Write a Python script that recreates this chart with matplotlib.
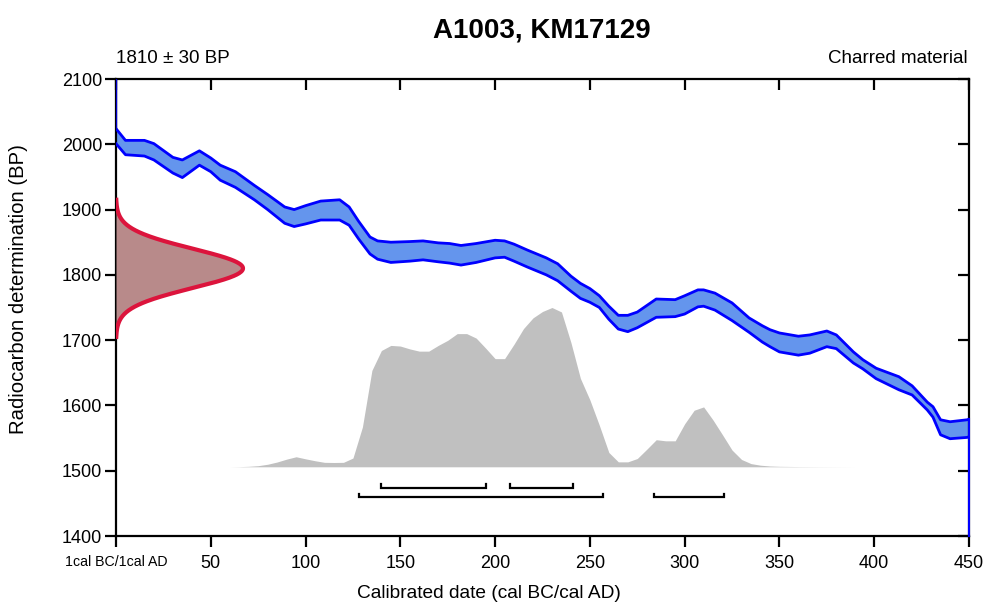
import numpy as np
import matplotlib
matplotlib.use("Agg")
import matplotlib.pyplot as plt

plt.rcParams['font.family'] = ['Liberation Sans', 'DejaVu Sans']

# ---- data ----
title = "A1003, KM17129"
date_label = "1810 \u00b1 30 BP"
material = "Charred material"
c14_mean = 1810
c14_sd = 30

# calibration curve band (cal AD, upper BP, lower BP)
cal_years = [0, 5, 15, 20, 30, 35, 44, 50, 55, 63, 73, 80, 89, 94, 100, 108, 118, 123,
             128, 134, 138, 145, 155, 162, 170, 176, 182, 190, 200, 205, 210, 217, 227,
             233, 240, 245, 250, 255, 260, 265, 270, 275, 285, 295, 300, 307, 310, 316,
             325, 334, 341, 345, 350, 360, 366, 375, 380, 389, 394, 401, 413, 420, 428,
             431, 435, 440, 449, 450]
cal_upper = [2024, 2006, 2006, 2001, 1980, 1976, 1990, 1979, 1968, 1958, 1937, 1923, 1904,
             1900, 1906, 1913, 1915, 1904, 1882, 1858, 1852, 1850, 1851, 1852, 1849, 1848,
             1845, 1848, 1853, 1852, 1847, 1838, 1826, 1817, 1798, 1787, 1779, 1768, 1752,
             1738, 1738, 1743, 1763, 1762, 1768, 1777, 1777, 1772, 1757, 1734, 1722, 1716,
             1711, 1706, 1708, 1714, 1708, 1682, 1670, 1657, 1644, 1630, 1605, 1598, 1578,
             1575, 1578, 1579]
cal_lower = [2001, 1984, 1982, 1976, 1956, 1949, 1968, 1958, 1945, 1934, 1915, 1900, 1879,
             1874, 1878, 1884, 1884, 1876, 1855, 1832, 1824, 1819, 1821, 1823, 1820, 1818,
             1815, 1819, 1826, 1827, 1821, 1812, 1800, 1791, 1775, 1764, 1758, 1750, 1732,
             1717, 1713, 1719, 1735, 1736, 1740, 1751, 1752, 1746, 1730, 1712, 1697, 1690,
             1682, 1677, 1680, 1690, 1687, 1665, 1656, 1641, 1624, 1616, 1593, 1582, 1555,
             1549, 1551, 1552]

# calibrated (posterior) probability, relative
post_years = [60, 65, 70, 75, 80, 85, 90, 95, 100, 105, 110, 115, 120, 125, 130, 135,
              140, 145, 150, 155, 160, 165, 170, 175, 180, 185, 190, 195, 200, 205, 210,
              215, 220, 225, 230, 235, 240, 245, 250, 255, 260, 265, 270, 275, 280, 285,
              290, 295, 300, 305, 310, 315, 320, 325, 330, 335, 340, 345, 350, 360, 370,
              380, 390]
post_prob = [0.0, 0.001, 0.003, 0.007, 0.016, 0.03, 0.048, 0.063, 0.05, 0.038,
             0.028, 0.027, 0.028, 0.055, 0.25, 0.605, 0.73, 0.762, 0.758, 0.74, 0.726, 0.726,
             0.762, 0.794, 0.836, 0.836, 0.808, 0.745, 0.679, 0.679, 0.77, 0.868, 0.935,
             0.975, 1.0, 0.972, 0.78, 0.555, 0.42, 0.26, 0.09, 0.031, 0.031, 0.052, 0.11,
             0.17, 0.163, 0.163, 0.27, 0.355, 0.376, 0.293, 0.2, 0.105, 0.046, 0.02, 0.01,
             0.005, 0.003, 0.0015, 0.0008, 0.0004, 0.0]

# highest probability ranges
range68 = [(140, 195), (208, 241)]
range95 = [(128, 257), (284, 321)]

xticks = [0, 50, 100, 150, 200, 250, 300, 350, 400, 450]
xticklabels = ["1cal BC/1cal AD", "50", "100", "150", "200", "250", "300", "350", "400", "450"]
yticks = [1400, 1500, 1600, 1700, 1800, 1900, 2000, 2100]

# ---- figure ----
fig = plt.figure(figsize=(9.86, 6.03), dpi=100)
ax = fig.add_axes([116/986, 1-536/603, (969-116)/986, (536-79)/603])
ax.set_xlim(0, 450)
ax.set_ylim(1400, 2100)

# posterior distribution
base = 1506
peak_h = 244
pp = np.array(post_prob)
ax.fill_between(post_years, base, base + pp / pp.max() * peak_h,
                color='#c0c0c0', lw=0, zorder=1)

# calibration curve
ax.fill_between(cal_years, cal_lower, cal_upper, color='#6495ed', lw=0, zorder=2)
ax.plot(cal_years, cal_upper, color='#0000ff', lw=2, zorder=3, solid_joinstyle='round')
ax.plot(cal_years, cal_lower, color='#0000ff', lw=2, zorder=3, solid_joinstyle='round')
ax.plot([450, 450], [1400, cal_upper[-1]], color='#0000ff', lw=1.5, zorder=3, clip_on=False)
ax.plot([0, 0], [cal_upper[0], 2100], color='#0000cc', lw=1.0, zorder=3)

# radiocarbon measurement distribution
yy = np.linspace(c14_mean - 3.5 * c14_sd, c14_mean + 3.5 * c14_sd, 300)
dens = np.exp(-0.5 * ((yy - c14_mean) / c14_sd) ** 2)
red_w = 67
ax.fill_betweenx(yy, 0, dens * red_w, color='#b88a8a', lw=0, zorder=4)
ax.plot(dens * red_w, yy, color='#dc143c', lw=3, zorder=5)

# range bars
def bracket(x0, x1, y, h=6):
    ax.plot([x0, x0, x1, x1], [y + h, y, y, y + h], color='black', lw=1.6,
            solid_joinstyle='miter', zorder=5)

for a, b in range68:
    bracket(a, b, 1473)
for a, b in range95:
    bracket(a, b, 1459)

# axes style
for s in ax.spines.values():
    s.set_linewidth(1.6)
ax.set_xticks(xticks)
ax.set_xticklabels(xticklabels)
ax.set_yticks(yticks)
ax.tick_params(axis='both', which='major', length=8, width=1.6, labelsize=13,
               direction='out', pad=6)
ax.tick_params(axis='x', top=True, labeltop=False)
ax.tick_params(axis='y', right=True, labelright=False)
ax.tick_params(axis='y', pad=2)
for t in ax.xaxis.get_major_ticks():
    t.tick2line.set_marker(matplotlib.lines.TICKDOWN)
for t in ax.yaxis.get_major_ticks():
    t.tick2line.set_marker(matplotlib.lines.TICKLEFT)
ax.get_xticklabels()[0].set_fontsize(10.2)

fig.text(489/986, 1-594/603, "Calibrated date (cal BC/cal AD)", ha='center',
         va='center', fontsize=13.8)
fig.text(19/986, 1-289/603, "Radiocarbon determination (BP)", ha='center',
         va='center', rotation=90, fontsize=14.6)

fig.text(542/986, 1-37/603, title, ha='center', va='baseline', fontsize=20,
         fontweight='bold')
fig.text(116/986, 1-63/603, date_label, ha='left', va='baseline', fontsize=13.5)
fig.text(968/986, 1-63/603, material, ha='right', va='baseline', fontsize=13.5)

fig.savefig("out.png", dpi=100)
